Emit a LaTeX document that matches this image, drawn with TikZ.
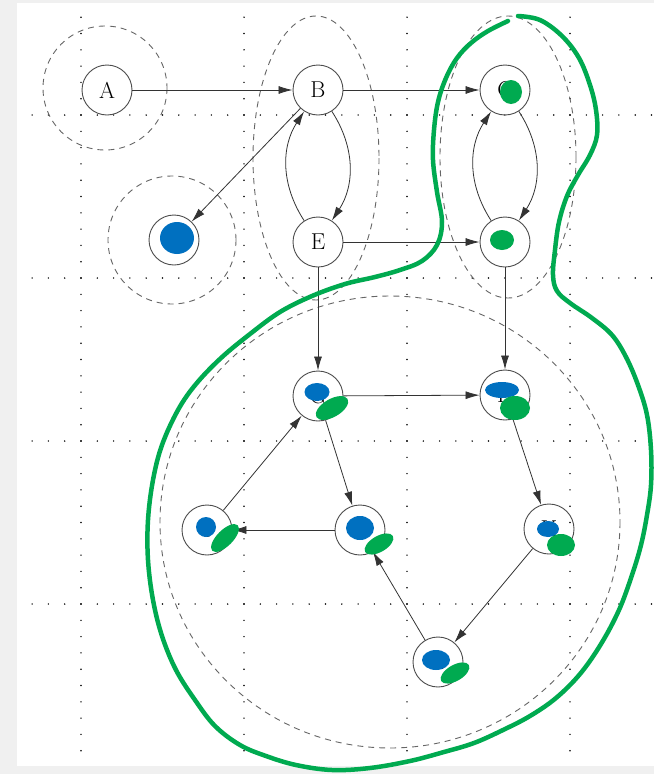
\documentclass[tikz,border=0pt]{standalone}
\usetikzlibrary{arrows.meta}
\definecolor{pengreen}{RGB}{0,170,80}
\definecolor{penblue}{RGB}{0,112,192}
\definecolor{pagegray}{RGB}{240,240,240}

\begin{document}
\begin{tikzpicture}[x=1pt,y=-1pt,
  vertex/.style={circle,draw=black!70,line width=0.9pt,minimum size=50pt,inner sep=0pt,
    font=\fontsize{23}{26}\selectfont},
  edge/.style={draw=black!80,line width=0.8pt,-{Latex[length=14pt,width=8pt]}},
  scc/.style={draw=black!60,line width=0.9pt,dash pattern=on 6pt off 5pt},
  ink/.style={draw=pengreen,line width=4.5pt,line cap=round,line join=round},
  gridpt/.style={fill=black},
]
\useasboundingbox (0,0) rectangle (654,774);
\fill[pagegray] (0,0) rectangle (654,774);
\fill[white] (17,3) rectangle (654,766);

% dotted guide grid
\foreach \gx in {81,244,407,570}{
  \foreach \k in {-6,...,39}{\fill[gridpt] (\gx,115+16.3*\k) circle (0.8pt);}}
\foreach \gy in {115,278,441,604}{
  \foreach \k in {-3,...,35}{\fill[gridpt] (81+16.3*\k,\gy) circle (0.8pt);}}

% strongly connected components
\draw[scc] (105,88) ellipse [x radius=62, y radius=62];
\draw[scc] (172,240) ellipse [x radius=64, y radius=64];
\draw[scc] (316,158) ellipse [x radius=63, y radius=142];
\draw[scc] (508,157) ellipse [x radius=68, y radius=141];
\draw[scc] (390,522) ellipse [x radius=230, y radius=226];

% vertices
\node[vertex] (A) at (107,90) {A};
\node[vertex] (B) at (318,90) {B};
\node[vertex] (C) at (505,90) {C};
\node[vertex] (D) at (174,240) {D};
\node[vertex] (E) at (318,242) {E};
\node[vertex] (F) at (505,242) {F};
\node[vertex] (G) at (318,396) {G};
\node[vertex] (H) at (505,395) {H};
\node[vertex] (I) at (207,530) {I};
\node[vertex] (J) at (360,530) {J};
\node[vertex] (K) at (549,529) {K};
\node[vertex] (L) at (438,662) {L};

% edges
\draw[edge] (A) -- (B);
\draw[edge] (B) -- (C);
\draw[edge] (B) -- (D);
\draw[edge] (E) to[bend left=33] (B);
\draw[edge] (B) to[bend left=33] (E);
\draw[edge] (F) to[bend left=33] (C);
\draw[edge] (C) to[bend left=33] (F);
\draw[edge] (E) -- (F);
\draw[edge] (E) -- (G);
\draw[edge] (F) -- (H);
\draw[edge] (G) -- (H);
\draw[edge] (G) -- (J);
\draw[edge] (J) -- (I);
\draw[edge] (I) -- (G);
\draw[edge] (H) -- (K);
\draw[edge] (K) -- (L);
\draw[edge] (L) -- (J);

% pen marks over the labels
\fill[pengreen] (511,92) ellipse [x radius=11, y radius=12];
\fill[pengreen] (502,240) ellipse [x radius=12, y radius=10];
\fill[penblue] (177,238) ellipse [x radius=17, y radius=16];
\fill[penblue] (317,392) ellipse [x radius=12.5, y radius=9];
\fill[pengreen,rotate around={30:(332,408)}] (332,408) ellipse [x radius=18, y radius=9];
\fill[penblue] (502,390) ellipse [x radius=17, y radius=8];
\fill[pengreen] (515,408) ellipse [x radius=15, y radius=12];
\fill[penblue] (206,527) ellipse [x radius=10, y radius=10];
\fill[pengreen,rotate around={45:(225,538)}] (225,538) ellipse [x radius=18, y radius=8];
\fill[penblue] (360,528) ellipse [x radius=14, y radius=12];
\fill[pengreen,rotate around={30:(379,544)}] (379,544) ellipse [x radius=16, y radius=8];
\fill[penblue] (548,529) ellipse [x radius=11, y radius=8];
\fill[pengreen] (561,545) ellipse [x radius=14, y radius=11];
\fill[penblue] (436,660) ellipse [x radius=14, y radius=10];
\fill[pengreen,rotate around={30:(455,673)}] (455,673) ellipse [x radius=16, y radius=8];

% hand-drawn outline
\draw[ink] plot[smooth,tension=0.6] coordinates {
  (518,16) (540,20) (562,36) (579,58) (590,85) (596,110) (597,135) (590,155)
  (578,175) (567,196) (559,222) (555,250) (553,275) (557,291) (570,303)
  (592,318) (612,335) (626,357) (638,385) (647,415) (651,450) (651,485)
  (647,515) (641,545) (632,575) (619,610) (601,644) (580,674) (556,698)
  (530,716) (503,730) (474,743) (444,752) (410,761) (370,768) (332,770)
  (296,765) (266,756) (240,745) (215,726) (195,700) (176,670) (162,636)
  (153,600) (148,560) (148,520) (153,480) (162,445) (178,410) (196,384)
  (221,358) (250,334) (280,312) (312,296) (345,284) (375,277) (400,270)
  (422,261) (437,245) (442,222) (437,192) (433,160) (434,130) (438,102)
  (446,78) (457,58) (471,43) (488,31) (508,21)};
\end{tikzpicture}
\end{document}
